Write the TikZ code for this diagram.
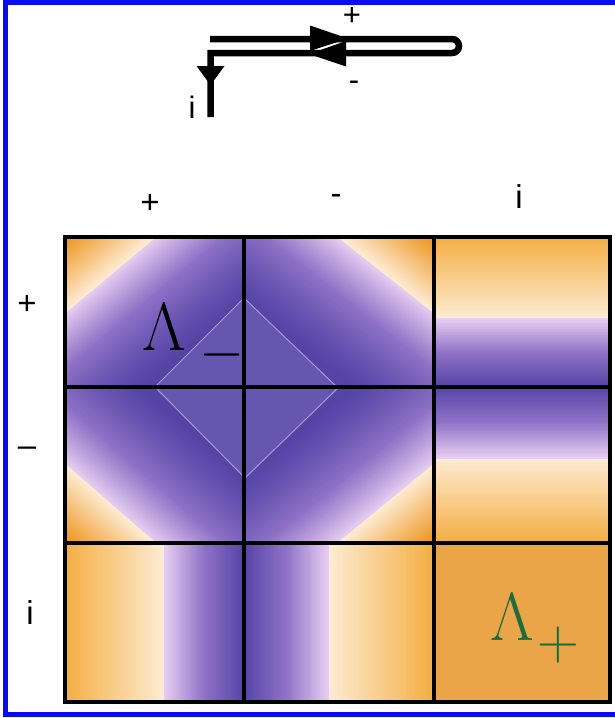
\RequirePackage{fix-cm}
\documentclass[tikz,border=0pt]{standalone}
\usepackage{fontspec}
\usepackage{xcolor}
\newfontfamily\labelfont{Liberation Sans}
\definecolor{PurDark}{HTML}{5444A6}
\definecolor{PurMid}{HTML}{8F72C7}
\definecolor{Lav}{HTML}{E8D0F2}
\definecolor{Cream}{HTML}{FDEBD2}
\definecolor{OrMid}{HTML}{F4AE42}
\definecolor{OrDeep}{HTML}{EE9215}
\definecolor{OrFlat}{HTML}{E9A548}
\definecolor{LamGreen}{HTML}{1E6B3C}
\definecolor{FrameBlue}{HTML}{0A0AF5}
% colour of one ring: #1 = position (0..1 purple band, 1..2 orange part), #2 = outer colour
\newcommand{\setring}[2]{%
  \ifdim #1pt<0.5pt
    \pgfmathtruncatemacro{\rp}{200*#1}\colorlet{ringc}{PurMid!\rp!PurDark}%
  \else\ifdim #1pt<1pt
    \pgfmathtruncatemacro{\rp}{200*(#1-0.5)}\colorlet{ringc}{Lav!\rp!PurMid}%
  \else
    \pgfmathtruncatemacro{\rp}{min(100,100*(#1-1))}\colorlet{ringc}{#2!\rp!Cream}%
  \fi\fi}
% subscript sign, set low and large
\newcommand{\subsign}[2]{\hspace{#1}\raisebox{-19.5pt}{\fontsize{58}{58}\selectfont$#2$}}
\tikzset{
  gridline/.style={line width=3.2pt, black},
  wire/.style={line width=6.5pt, black},
  hdr/.style={font=\labelfont\fontsize{33}{33}\selectfont, inner sep=0pt},
  small lab/.style={font=\labelfont\fontsize{31}{31}\selectfont, inner sep=0pt},
  lam/.style={font=\fontsize{68}{68}\selectfont, inner sep=0pt, anchor=base west},
}
\begin{document}
\begin{tikzpicture}[x=1pt, y=-1pt]
    \useasboundingbox (0,0) rectangle (615,718);
    % frame
    \draw[line width=5pt, FrameBlue, line join=miter] (617,2.2) -- (5.8,2.2) -- (5.8,714.3) -- (617,714.3);
    % contour
    \draw[wire, line join=miter] (210,39) -- (452,39) arc[start angle=-90, end angle=90, radius=7]
      -- (210.5,53) -- (210.5,117);
    \fill (310,25.5) -- (348,38.5) -- (310,51) -- cycle;
    \fill (309,54) -- (346,41) -- (346,66.5) -- cycle;
    \fill (196.5,66) -- (224.5,66) -- (210.5,85) -- cycle;
    \node[small lab] (cplus) at (352,17) {+};
    \node[small lab] (cminus) at (354,86) {-};
    \node[small lab] (ci) at (192,107) {i};
    % column headers
    \node[hdr] (colp) at (150,204) {+};
    \node[hdr] (colm) at (336,199) {-};
    \node[hdr] (coli) at (519,197) {i};
    % row headers
    \node[hdr] (rowp) at (27,305) {+};
    \node[hdr] (rowm) at (27,452) {–};
    \node[hdr] (rowi) at (30,613) {i};
    % (+-) block: rings round the centre
    \begin{scope}
      \clip (65,237) rectangle (434,543);
      \foreach \k in {205,204,...,54}{
        \pgfmathsetmacro{\rs}{\k/100}
        \pgfmathsetmacro{\tq}{\rs<1.5 ? (max(0,(\rs-0.55)/0.95))^1.35 : 1+2*(\rs-1.5)}
        \setring{\tq}{OrDeep}
        \fill[ringc] (244-179*\rs,387) -- (244,387-150*\rs) -- (244+190*\rs,387) -- (244,387+156*\rs) -- cycle;
      }
    \end{scope}
    % i row: vertical stripes
    \begin{scope}
      \clip (65,543) rectangle (434,702);
      \foreach \k in {204,203,...,0}{
        \pgfmathsetmacro{\ru}{\k/200}
        \pgfmathsetmacro{\tq}{\ru<0.45 ? \ru/0.45 : 1+(\ru-0.45)/0.55}
        \setring{\tq}{OrMid}
        \fill[ringc] (244-179*\ru,543) rectangle (244+190*\ru,702);
      }
    \end{scope}
    % i column: horizontal stripes
    \begin{scope}
      \clip (434,237) rectangle (610,543);
      \foreach \k in {204,203,...,0}{
        \pgfmathsetmacro{\rv}{\k/200}
        \pgfmathsetmacro{\tq}{\rv<0.46 ? \rv/0.46 : 1+(\rv-0.46)/0.54}
        \setring{\tq}{OrMid}
        \fill[ringc] (434,387-150*\rv) rectangle (610,387+156*\rv);
      }
    \end{scope}
    \fill[OrFlat] (434,543) rectangle (610,702);
    % inner diamond
    \fill[white, opacity=0.1] (155,387) -- (244,298) -- (338,388) -- (245,478) -- cycle;
    \draw[Lav, opacity=0.55, line width=1pt] (155,387) -- (244,298) -- (338,388) -- (245,478) -- cycle;
    % labels
    \node[lam] (lamminus) at (142.5,350) {$\Lambda$\subsign{13pt}{-}};
    \node[lam, text=LamGreen] (lamplus) at (490,640) {$\Lambda$\subsign{4pt}{+}};
    % grid lines
    \draw[gridline] (65,237) rectangle (610,702);
    \draw[gridline] (244,237) -- (244,702) (434,237) -- (434,702)
      (65,387) -- (610,387) (65,543) -- (610,543);
\end{tikzpicture}
\end{document}
